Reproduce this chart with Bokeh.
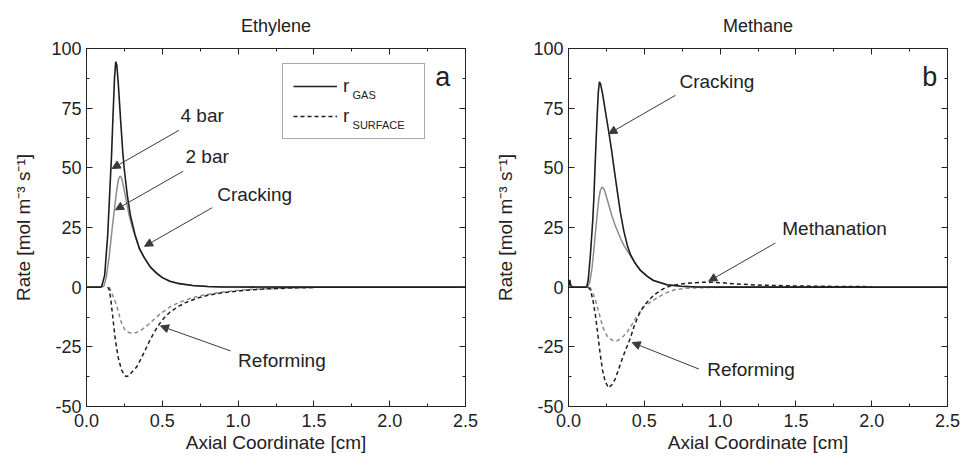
from bokeh.plotting import figure
from bokeh.layouts import row
from bokeh.models import (Range1d, LinearAxis, SingleIntervalTicker, NumeralTickFormatter,
                          CustomJSTickFormatter, Label, Arrow, NormalHead, Legend, LegendItem)
from bokeh.embed import file_html
from bokeh.resources import INLINE

FONT = "Liberation Sans"

# ---------------- Ethylene (panel a) ----------------
eth_gas4_x = [0.0, 0.09, 0.10, 0.12, 0.14, 0.155, 0.165, 0.175, 0.185, 0.193, 0.20, 0.21, 0.225, 0.24,
              0.25, 0.27, 0.29, 0.32, 0.35, 0.38, 0.42, 0.46, 0.50, 0.55, 0.60, 0.70, 0.80, 0.90, 1.0, 1.5, 2.5]
eth_gas4_y = [0.0, 0.0, 0.3, 5.0, 22.0, 42.0, 55.0, 72.0, 88.0, 94.5, 93.0, 85.0, 70.0, 56.0,
              49.0, 38.0, 30.0, 22.0, 16.0, 12.5, 8.5, 6.0, 4.0, 2.5, 1.6, 0.7, 0.3, 0.1, 0.05, 0.0, 0.0]

eth_gas2_x = [0.0, 0.10, 0.115, 0.13, 0.15, 0.17, 0.185, 0.20, 0.21, 0.22, 0.23, 0.24, 0.26, 0.28, 0.30,
              0.32, 0.35, 0.38, 0.42, 0.46, 0.50, 0.55, 0.60, 0.70, 0.80, 0.90, 1.0, 1.5, 2.5]
eth_gas2_y = [0.0, 0.0, 0.5, 4.0, 13.0, 25.0, 33.0, 41.0, 45.0, 46.5, 46.0, 43.5, 37.0, 30.5, 25.5,
              21.5, 16.0, 12.5, 8.5, 6.0, 4.0, 2.5, 1.6, 0.7, 0.3, 0.1, 0.05, 0.0, 0.0]

eth_surf4_x = [0.14, 0.15, 0.16, 0.176, 0.19, 0.209, 0.23, 0.25, 0.264, 0.28, 0.30, 0.33, 0.36, 0.39, 0.42,
               0.45, 0.48, 0.51, 0.55, 0.60, 0.65, 0.72, 0.80, 0.90, 1.0, 1.1, 1.2, 1.35, 1.5]
eth_surf4_y = [0.0, -1.0, -5.0, -14.0, -22.0, -29.4, -34.5, -37.0, -37.5, -37.0, -35.5, -33.5, -30.0, -26.0, -22.0,
               -18.5, -15.5, -13.0, -10.5, -8.3, -6.6, -4.8, -3.4, -2.3, -1.6, -1.1, -0.7, -0.35, -0.15]

eth_surf2_x = [0.15, 0.16, 0.18, 0.198, 0.215, 0.231, 0.25, 0.27, 0.297, 0.33, 0.36, 0.396, 0.44, 0.484,
               0.55, 0.615, 0.69, 0.77, 0.88, 0.99, 1.1, 1.21, 1.32, 1.43, 1.5]
eth_surf2_y = [0.0, -1.5, -4.5, -7.5, -11.5, -15.0, -17.5, -18.8, -19.3, -19.0, -18.0, -16.3, -13.8, -11.3,
               -8.3, -6.3, -4.6, -3.3, -2.2, -1.4, -0.9, -0.6, -0.35, -0.2, -0.1]

# ---------------- Methane (panel b) ----------------
met_gas4_x = [0.0, 0.008, 0.016, 0.03, 0.12, 0.13, 0.145, 0.16, 0.167, 0.178, 0.189, 0.197, 0.204, 0.212,
              0.225, 0.245, 0.266, 0.285, 0.30, 0.32, 0.343, 0.365, 0.39, 0.41, 0.44, 0.475, 0.52, 0.56,
              0.65, 0.74, 0.85, 1.0, 2.5]
met_gas4_y = [0.0, 3.0, 0.5, 0.0, 0.0, 3.0, 14.0, 28.0, 37.0, 55.0, 72.0, 82.0, 86.0, 85.0,
              81.0, 73.0, 65.0, 57.0, 50.0, 41.0, 31.0, 23.5, 17.0, 13.5, 10.0, 7.0, 4.5, 2.8,
              1.0, 0.4, 0.1, 0.0, 0.0]

met_gas2_x = [0.0, 0.125, 0.14, 0.155, 0.168, 0.178, 0.19, 0.20, 0.21, 0.222, 0.235, 0.25, 0.27, 0.288,
              0.31, 0.343, 0.365, 0.39, 0.41, 0.44, 0.475, 0.52, 0.56, 0.65, 0.74, 0.85, 1.0, 2.5]
met_gas2_y = [0.0, 0.0, 2.0, 8.0, 16.0, 23.0, 31.0, 37.0, 40.5, 42.0, 41.0, 38.0, 33.5, 29.5,
              25.5, 20.5, 17.5, 15.0, 13.0, 10.0, 7.0, 4.5, 2.8, 1.0, 0.4, 0.1, 0.0, 0.0]

met_surf4_x = [0.13, 0.143, 0.16, 0.176, 0.19, 0.209, 0.225, 0.242, 0.264, 0.285, 0.308, 0.33, 0.363, 0.385,
               0.407, 0.435, 0.462, 0.495, 0.528, 0.565, 0.605, 0.64, 0.68, 0.74, 0.80, 0.87, 0.945,
               1.02, 1.1, 1.2, 1.35, 1.5, 1.7, 1.9, 2.0]
met_surf4_y = [0.0, -1.0, -5.0, -11.0, -18.0, -28.0, -35.0, -39.5, -42.2, -41.0, -38.5, -34.5, -28.5, -25.0,
               -21.5, -16.0, -11.8, -8.0, -5.6, -3.2, -1.5, -0.2, 0.6, 1.3, 1.7, 2.0, 2.1,
               1.8, 1.4, 1.0, 0.7, 0.5, 0.35, 0.25, 0.2]

met_surf2_x = [0.14, 0.15, 0.17, 0.187, 0.21, 0.231, 0.26, 0.29, 0.319, 0.35, 0.385, 0.42, 0.451, 0.50,
               0.571, 0.64, 0.704, 0.77, 0.835, 0.95, 1.2, 1.5, 2.0]
met_surf2_y = [0.0, -1.0, -4.0, -7.5, -13.0, -17.5, -21.0, -22.3, -22.5, -21.3, -19.0, -15.5, -12.0, -8.0,
               -5.0, -2.5, -1.0, -0.5, -0.3, -0.1, 0.1, 0.1, 0.0]

x_ticks_interval = 0.5
y_ticks_interval = 25

DARK = "#1e1e1e"
GRAY = "#8c8c8c"
ARROW = "#3a3a3a"
TXT = "#222222"


def style_axis(ax):
    ax.major_tick_in = 6
    ax.major_tick_out = 0
    ax.minor_tick_in = 3
    ax.minor_tick_out = 0
    ax.axis_line_color = TXT
    ax.major_tick_line_color = TXT
    ax.minor_tick_line_color = TXT
    ax.major_label_text_font = FONT
    ax.major_label_text_font_size = "18px"
    ax.major_label_text_color = TXT
    ax.axis_label_text_font = FONT
    ax.axis_label_text_font_size = "19px"
    ax.axis_label_text_font_style = "normal"
    ax.axis_label_text_color = TXT


def make_fig(title, left_border, right_border):
    p = figure(width=481, height=469, output_backend="svg", toolbar_location=None,
               x_range=Range1d(0, 2.5), y_range=Range1d(-50, 100),
               min_border_left=left_border, min_border_right=right_border,
               min_border_top=46, min_border_bottom=63)
    p.title.text = title
    p.title.align = "center"
    p.title.text_font = FONT
    p.title.text_font_size = "18px"
    p.title.text_font_style = "normal"
    p.title.text_color = TXT
    p.title.standoff = 26
    p.xgrid.visible = False
    p.ygrid.visible = False
    p.outline_line_color = TXT
    p.outline_line_width = 1
    p.background_fill_color = "white"
    p.border_fill_color = "white"

    bottom = p.below[0]
    left = p.left[0]
    bottom.ticker = SingleIntervalTicker(interval=x_ticks_interval, num_minor_ticks=2)
    bottom.formatter = NumeralTickFormatter(format="0.0")
    left.ticker = SingleIntervalTicker(interval=y_ticks_interval, num_minor_ticks=2)
    left.formatter = NumeralTickFormatter(format="0")
    style_axis(bottom)
    style_axis(left)

    blank = CustomJSTickFormatter(code="return ''")
    top = LinearAxis(ticker=SingleIntervalTicker(interval=x_ticks_interval, num_minor_ticks=2),
                     formatter=blank, major_label_standoff=0)
    right = LinearAxis(ticker=SingleIntervalTicker(interval=y_ticks_interval, num_minor_ticks=2),
                       formatter=blank, major_label_standoff=0)
    style_axis(top)
    style_axis(right)
    p.add_layout(top, "above")
    p.add_layout(right, "right")

    bottom.axis_label = "Axial Coordinate [cm]"
    bottom.major_label_standoff = 7
    bottom.axis_label_standoff = 2
    left.axis_label = "Rate [mol m\u207b\u00b3 s\u207b\u00b9]"
    left.major_label_standoff = 5
    left.axis_label_standoff = 14
    return p


def add_text(p, x, y, text, size="19px", align="left"):
    p.add_layout(Label(x=x, y=y, text=text, text_font=FONT, text_font_size=size,
                       text_baseline="middle", text_align=align, text_color=TXT))


def add_arrow(p, xs, ys, xe, ye):
    p.add_layout(Arrow(end=NormalHead(size=8, fill_color=ARROW, line_color=ARROW),
                       x_start=xs, y_start=ys, x_end=xe, y_end=ye,
                       line_color=ARROW, line_width=1))


# ---------- panel a ----------
p1 = make_fig("Ethylene", 86, 16)
g2 = p1.line(eth_gas2_x, eth_gas2_y, line_color=GRAY, line_width=1.5)
s2 = p1.line(eth_surf2_x, eth_surf2_y, line_color=GRAY, line_width=1.5, line_dash="4 3")
s4 = p1.line(eth_surf4_x, eth_surf4_y, line_color=DARK, line_width=1.5, line_dash="4 3")
g4 = p1.line(eth_gas4_x, eth_gas4_y, line_color=DARK, line_width=1.6)

legend = Legend(items=[LegendItem(label="r", renderers=[g4]),
                       LegendItem(label="r", renderers=[s4])],
                location=(196, 267), orientation="vertical",
                glyph_width=44, glyph_height=24, label_height=24, label_width=71,
                label_standoff=6, spacing=6, padding=10, margin=0,
                label_text_font=FONT, label_text_font_size="19px", label_text_color=TXT,
                border_line_color="#555555", border_line_width=1,
                background_fill_alpha=0.0)
p1.add_layout(legend, "center")
p1.add_layout(Label(x=1.755, y=80.5, text="GAS", text_font=FONT, text_font_size="11px",
                    text_baseline="alphabetic", text_color=TXT))
p1.add_layout(Label(x=1.755, y=67.8, text="SURFACE", text_font=FONT, text_font_size="11px",
                    text_baseline="alphabetic", text_color=TXT))

add_text(p1, 2.30, 88.0, "a", size="27px")
add_text(p1, 0.62, 72.0, "4 bar")
add_arrow(p1, 0.609, 65.7, 0.169, 49.7)
add_text(p1, 0.653, 54.6, "2 bar")
add_arrow(p1, 0.638, 48.6, 0.191, 32.4)
add_text(p1, 0.862, 39.0, "Cracking")
add_arrow(p1, 0.829, 33.3, 0.383, 17.1)
add_text(p1, 1.0, -30.6, "Reforming")
add_arrow(p1, 0.95, -26.7, 0.488, -16.25)

# ---------- panel b ----------
p2 = make_fig("Methane", 87, 15)
p2.line(met_gas2_x, met_gas2_y, line_color=GRAY, line_width=1.5)
p2.line(met_surf2_x, met_surf2_y, line_color=GRAY, line_width=1.5, line_dash="4 3")
p2.line(met_surf4_x, met_surf4_y, line_color=DARK, line_width=1.5, line_dash="4 3")
p2.line(met_gas4_x, met_gas4_y, line_color=DARK, line_width=1.6)

add_text(p2, 2.333, 88.0, "b", size="27px")
add_text(p2, 0.732, 86.0, "Cracking")
add_arrow(p2, 0.706, 80.4, 0.266, 64.3)
add_text(p2, 1.41, 24.4, "Methanation")
add_arrow(p2, 1.365, 18.5, 0.925, 2.5)
add_text(p2, 0.915, -34.4, "Reforming")
add_arrow(p2, 0.86, -34.3, 0.42, -23.2)

layout = row(p1, p2)
open("out.html", "w").write(file_html(layout, INLINE))
